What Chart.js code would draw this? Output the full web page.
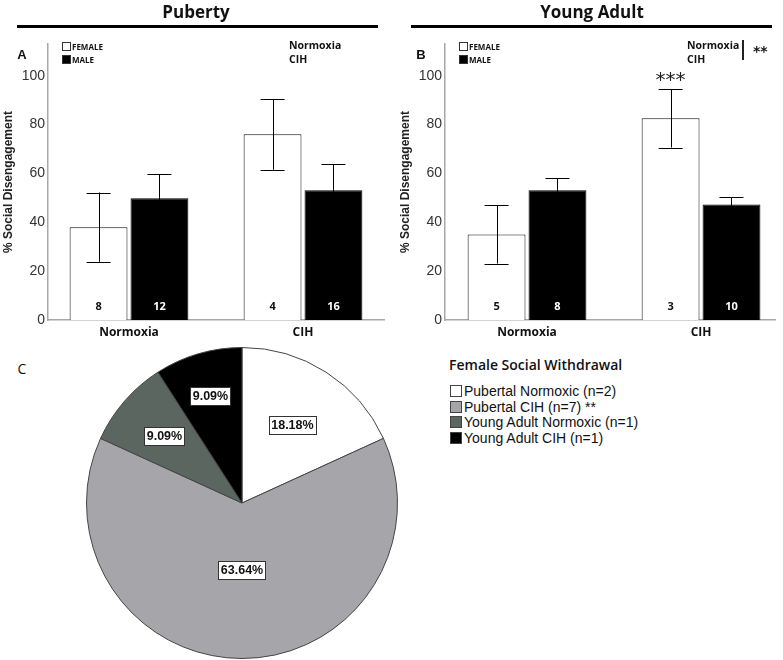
<!DOCTYPE html>
<html>
<head>
<meta charset="utf-8">
<script src="https://cdn.jsdelivr.net/npm/chart.js@4.4.1/dist/chart.umd.min.js"></script>
<style>
  body { margin: 0; background: #fff; }
  #wrap { position: relative; width: 783px; height: 660px; overflow: hidden; background: #fff; }
  canvas { position: absolute; }
  .t { position: absolute; white-space: nowrap; line-height: 1; color: #111; }
  .c { transform: translate(-50%, -50%); }
  .l { transform: translate(0, -50%); }
  .hd { font: 700 17px 'Open Sans', sans-serif; }
  .rule { position: absolute; height: 3px; background: #000; }
  .pl { font: 700 13px 'Liberation Sans', Arial, sans-serif; }
  .lg { font: 700 8px 'Open Sans', sans-serif; }
  .sq { position: absolute; width: 7px; height: 7px; border: 1px solid #333; }
  .cond { font: 700 10.5px 'Open Sans', sans-serif; }
  .pt { font: 600 14px 'Open Sans', sans-serif; }
  .pi { font: 14px 'Liberation Sans', Arial, sans-serif; }
  .pb { position: absolute; width: 10px; height: 10px; border: 1px solid #444; }
</style>
</head>
<body>
<div id="wrap">
  <canvas id="chartA" width="390" height="345" style="left:0;top:0"></canvas>
  <canvas id="chartB" width="393" height="345" style="left:390px;top:0"></canvas>
  <canvas id="chartC" width="312" height="312" style="left:86px;top:347px"></canvas>

  <div class="t c hd" style="left:196px;top:11px">Puberty</div>
  <div class="rule" style="left:17px;top:25px;width:361px"></div>
  <div class="t c hd" style="left:592px;top:11px">Young Adult</div>
  <div class="rule" style="left:411px;top:25px;width:361px"></div>

  <div class="t c pl" style="left:22px;top:54px">A</div>
  <div class="sq" style="left:62px;top:42px;background:#fff"></div>
  <div class="t l lg" style="left:72px;top:46px">FEMALE</div>
  <div class="sq" style="left:62px;top:55px;background:#000"></div>
  <div class="t l lg" style="left:72px;top:59px">MALE</div>
  <div class="t l cond" style="left:289px;top:45px">Normoxia</div>
  <div class="t l cond" style="left:289px;top:59px">CIH</div>

  <div class="t c pl" style="left:421px;top:54px">B</div>
  <div class="sq" style="left:459px;top:42px;background:#fff"></div>
  <div class="t l lg" style="left:469px;top:46px">FEMALE</div>
  <div class="sq" style="left:459px;top:55px;background:#000"></div>
  <div class="t l lg" style="left:469px;top:59px">MALE</div>
  <div class="t l cond" style="left:687px;top:45px">Normoxia</div>
  <div class="t l cond" style="left:687px;top:59px">CIH</div>
  <div style="position:absolute;left:742px;top:40px;width:1.5px;height:20px;background:#222"></div>
  <div class="t l" style="left:753px;top:51px;font:700 14px 'DejaVu Sans',sans-serif">**</div>

  <div class="t c" style="left:22px;top:368px;font:14px 'Open Sans',sans-serif">C</div>
  <div class="t l pt" style="left:449px;top:364px">Female Social Withdrawal</div>
  <div id="pieLegend"></div>
</div>

<script>
// bar panels: % social disengagement, mean and sem per group
const groups = ['Normoxia', 'CIH'];
const yTicks = [0, 20, 40, 60, 80, 100];

const pubFemale = [38, 76];
const pubFemaleSem = [14.2, 14.5];
const pubFemaleN = [8, 4];
const pubMale = [49.8, 53.1];
const pubMaleSem = [9.8, 10.6];
const pubMaleN = [12, 16];

const yaFemale = [35, 82.6];
const yaFemaleSem = [11.9, 12];
const yaFemaleN = [5, 3];
const yaFemaleSig = ['', '***'];
const yaMale = [53.1, 47.3];
const yaMaleSem = [4.9, 2.9];
const yaMaleN = [8, 10];

// pie: female social withdrawal counts
const pieLabels = ['Pubertal Normoxic', 'Pubertal CIH', 'Young Adult Normoxic', 'Young Adult CIH'];
const pieCounts = [2, 7, 1, 1];
const pieSig = ['', ' **', '', ''];
const pieColors = ['#ffffff', '#a6a6aa', '#5b6661', '#000000'];
const pieLabelRadius = [0.6, 0.43, 0.66, 0.72];

// error bars, n counts and stars drawn on top of the bars
const barExtras = {
  id: 'barExtras',
  afterDatasetsDraw(chart) {
    const ctx = chart.ctx;
    const y = chart.scales.y;
    chart.data.datasets.forEach((ds, di) => {
      chart.getDatasetMeta(di).data.forEach((bar, i) => {
        const v = ds.data[i].y;
        const e = ds.err[i];
        const top = y.getPixelForValue(v + e);
        const bot = y.getPixelForValue(v - e);
        ctx.save();
        ctx.strokeStyle = '#000';
        ctx.lineWidth = 1;
        ctx.beginPath();
        ctx.moveTo(Math.round(bar.x) + 0.5, top);
        ctx.lineTo(Math.round(bar.x) + 0.5, bot);
        ctx.moveTo(bar.x - 12, Math.round(top) + 0.5);
        ctx.lineTo(bar.x + 12, Math.round(top) + 0.5);
        ctx.moveTo(bar.x - 12, Math.round(bot) + 0.5);
        ctx.lineTo(bar.x + 12, Math.round(bot) + 0.5);
        ctx.stroke();

        ctx.fillStyle = ds.nColor;
        ctx.font = "700 11px 'Open Sans', sans-serif";
        ctx.textAlign = 'center';
        ctx.textBaseline = 'middle';
        ctx.fillText(String(ds.n[i]), bar.x, y.bottom - 13);

        if (ds.sig && ds.sig[i]) {
          ctx.fillStyle = '#222';
          ctx.font = "20px 'DejaVu Sans', sans-serif";
          ctx.fillText(ds.sig[i], bar.x, top - 8);
        }
        ctx.restore();
      });
    });
  }
};

function makeBars(id, female, femaleSem, femaleN, male, maleSem, maleN, femaleSig, box) {
  const pts = vals => vals.map((v, i) => ({ x: i + 1, y: v }));
  return new Chart(document.getElementById(id), {
    type: 'bar',
    data: {
      datasets: [
        { label: 'FEMALE', data: pts(female), err: femaleSem, n: femaleN, sig: femaleSig,
          nColor: '#111', backgroundColor: '#ffffff', borderColor: '#111', borderWidth: 1 },
        { label: 'MALE', data: pts(male), err: maleSem, n: maleN,
          nColor: '#ffffff', backgroundColor: '#000000', borderColor: '#000000', borderWidth: 1 }
      ]
    },
    options: {
      responsive: false,
      animation: false,
      devicePixelRatio: 1,
      categoryPercentage: 0.7,
      barPercentage: 0.95,
      layout: { padding: { top: 44, right: box.right, left: 0, bottom: 0 } },
      plugins: { legend: { display: false }, tooltip: { enabled: false } },
      scales: {
        x: {
          type: 'linear',
          offset: false,
          min: box.xmin,
          max: box.xmax,
          afterBuildTicks: s => { s.ticks = groups.map((g, i) => ({ value: i + 1 })); },
          afterFit: s => { s.height = 25; },
          grid: { display: false, drawTicks: false },
          border: { display: true, color: '#a8a8a8', width: 1.5 },
          ticks: {
            padding: 5,
            maxRotation: 0,
            autoSkip: false,
            color: '#111',
            font: { family: "'Open Sans', sans-serif", size: 12, weight: '700' },
            callback: v => groups[v - 1] || ''
          }
        },
        y: {
          min: 0,
          max: 113,
          afterBuildTicks: s => { s.ticks = yTicks.map(v => ({ value: v })); },
          afterFit: s => { s.width = box.axisX; },
          grid: { display: false, drawTicks: false },
          border: { display: true, color: '#a8a8a8', width: 1.5 },
          ticks: {
            padding: 3,
            color: '#333',
            font: { family: "'Liberation Sans', Arial, sans-serif", size: 14 }
          },
          title: {
            display: true,
            text: '% Social Disengagement',
            color: '#222',
            padding: { top: box.titlePad, bottom: 0 },
            font: { family: "'Liberation Sans', Arial, sans-serif", size: 12, weight: '700' }
          }
        }
      }
    },
    plugins: [barExtras]
  });
}

makeBars('chartA', pubFemale, pubFemaleSem, pubFemaleN, pubMale, pubMaleSem, pubMaleN, null,
  { axisX: 48, right: 6, xmin: 0.5345, xmax: 2.4655, titlePad: 1 });
makeBars('chartB', yaFemale, yaFemaleSem, yaFemaleN, yaMale, yaMaleSem, yaMaleN, yaFemaleSig,
  { axisX: 55, right: 8, xmin: 0.5287, xmax: 2.425, titlePad: 8 });

// percentage boxes on the slices
const pieBoxes = {
  id: 'pieBoxes',
  afterDatasetsDraw(chart) {
    const ctx = chart.ctx;
    const total = pieCounts.reduce((a, b) => a + b, 0);
    chart.getDatasetMeta(0).data.forEach((arc, i) => {
      const p = arc.getProps(['x', 'y', 'startAngle', 'endAngle', 'outerRadius'], true);
      const mid = (p.startAngle + p.endAngle) / 2;
      const r = p.outerRadius * pieLabelRadius[i];
      const cx = p.x + Math.cos(mid) * r;
      const cy = p.y + Math.sin(mid) * r;
      const txt = (pieCounts[i] / total * 100).toFixed(2) + '%';
      ctx.save();
      ctx.font = "700 12.5px 'Liberation Sans Narrow', 'Liberation Sans', Arial, sans-serif";
      const w = ctx.measureText(txt).width + 5;
      const h = 18;
      const bx = Math.round(cx - w / 2) + 0.5;
      const by = Math.round(cy - h / 2) + 0.5;
      ctx.fillStyle = '#fff';
      ctx.fillRect(bx, by, Math.round(w), h);
      ctx.strokeStyle = '#333';
      ctx.lineWidth = 1;
      ctx.strokeRect(bx, by, Math.round(w), h);
      ctx.fillStyle = '#111';
      ctx.textAlign = 'center';
      ctx.textBaseline = 'middle';
      ctx.fillText(txt, cx, cy + 1);
      ctx.restore();
    });
  }
};

new Chart(document.getElementById('chartC'), {
  type: 'pie',
  data: {
    labels: pieLabels,
    datasets: [{
      data: pieCounts,
      backgroundColor: pieColors,
      borderColor: '#444',
      borderWidth: 1
    }]
  },
  options: {
    responsive: false,
    animation: false,
    devicePixelRatio: 1,
    plugins: { legend: { display: false }, tooltip: { enabled: false } }
  },
  plugins: [pieBoxes]
});

// legend for the pie
const legendEl = document.getElementById('pieLegend');
pieLabels.forEach((lab, i) => {
  const cy = 391 + i * 15.6;
  const sw = document.createElement('div');
  sw.className = 'pb';
  sw.style.left = '450px';
  sw.style.top = (cy - 6) + 'px';
  sw.style.background = pieColors[i];
  legendEl.appendChild(sw);
  const tx = document.createElement('div');
  tx.className = 't l pi';
  tx.style.left = '464px';
  tx.style.top = cy + 'px';
  tx.textContent = lab + ' (n=' + pieCounts[i] + ')' + pieSig[i];
  legendEl.appendChild(tx);
});
</script>
</body>
</html>
